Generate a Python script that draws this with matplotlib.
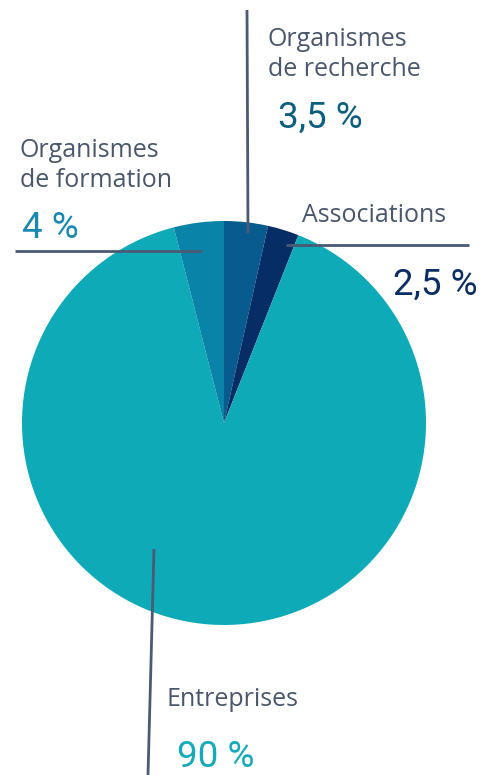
import matplotlib
matplotlib.use("Agg")
import matplotlib.pyplot as plt

# data
labels = ["Organismes\nde recherche", "Associations", "Entreprises", "Organismes\nde formation"]
values = [3.5, 2.5, 90, 4]
pct_text = ["3,5 %", "2,5 %", "90 %", "4 %"]
slice_colors = ["#075b8e", "#062d66", "#0faab8", "#0a83a8"]
pct_colors = ["#0e5f7d", "#0b2d63", "#14aab8", "#1a88b0"]

W, H = 499, 775
LABEL_COL = "#4a566b"
LINE_COL = "#4a5a75"

def fy(y):
    # pixel y (from top) -> data y
    return H - y

fig = plt.figure(figsize=(W / 100, H / 100), dpi=100)
ax = fig.add_axes([0, 0, 1, 1])

ax.pie(values, colors=slice_colors, startangle=90, counterclock=False,
       center=(224, fy(423)), radius=202, frame=True,
       wedgeprops=dict(linewidth=0))
ax.set_xlim(0, W)
ax.set_ylim(0, H)
ax.axis("off")

# leader lines (pixel coords)
leaders = [
    ((247, 248), (10, 233)),      # recherche
    ((286, 469), (245, 245)),     # associations
    ((154, 148), (549, 775)),     # entreprises
    ((15, 202), (251, 251)),      # formation
]
for xs, ys in leaders:
    ax.plot(xs, [fy(v) for v in ys], color=LINE_COL, lw=2, solid_capstyle="butt")

lab_font = dict(family="Open Sans", fontsize=18, color=LABEL_COL, ha="left", va="baseline")
pct_font = dict(family="Roboto", fontsize=26.5, ha="left", va="baseline")

# label positions (left x, baseline of first line)
lab_pos = [(268, 46), (302, 222), (167, 706), (20, 157)]
pct_pos = [(278, 128), (393, 295), (177, 767), (22, 238)]

for i in range(len(labels)):
    lx, ly = lab_pos[i]
    parts = labels[i].split("\n")
    for k, part in enumerate(parts):
        ax.text(lx, fy(ly + 30 * k), part, **lab_font)
    px, py = pct_pos[i]
    ax.text(px, fy(py), pct_text[i], color=pct_colors[i], **pct_font)

fig.savefig("out.png", dpi=100)
